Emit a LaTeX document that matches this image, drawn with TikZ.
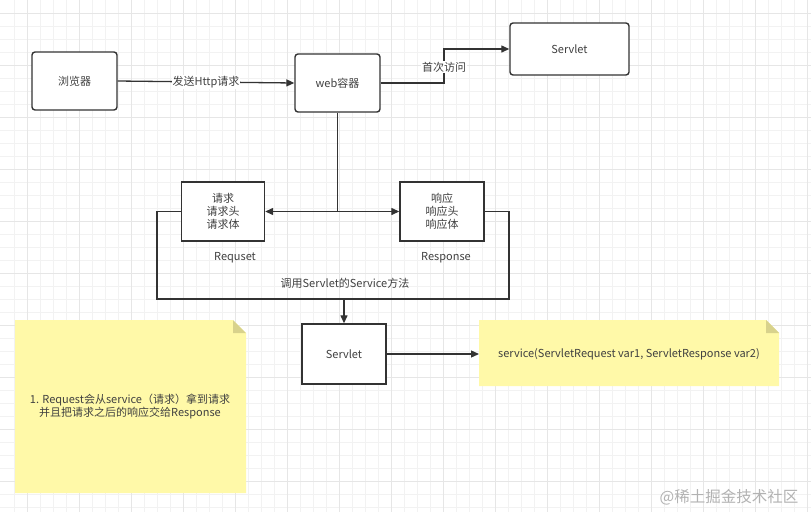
\documentclass[tikz,border=0pt]{standalone}
\usepackage{fontspec}
\setmainfont{Noto Sans CJK SC}
\usetikzlibrary{arrows.meta}
\definecolor{ink}{HTML}{333333}
\definecolor{txt}{HTML}{404040}
\definecolor{notey}{HTML}{FFF9A8}
\definecolor{notefold}{HTML}{D8D28C}
\definecolor{gridmin}{HTML}{F2F2F2}
\definecolor{gridmaj}{HTML}{E6E6E6}
\tikzset{
  x=1pt, y=-1pt,
  every node/.style={font=\fontsize{11}{13}\selectfont, text=txt},
  rbox/.style={draw=ink, line width=1.4pt, rounded corners=3pt, fill=white, minimum width=85pt, minimum height=58pt, inner sep=0pt},
  sbox/.style={draw=ink, line width=1.4pt, fill=white, minimum width=83pt, minimum height=59pt, inner sep=0pt, align=center},
  conn/.style={draw=ink, line width=1.3pt},
  arr/.style={conn, -{Triangle[length=8pt,width=7pt]}},
  lbl/.style={fill=white, inner sep=1pt},
  plain/.style={inner sep=0pt}
}
\begin{document}
\begin{tikzpicture}
\useasboundingbox (0,0) rectangle (811,512);
\fill[white] (0,0) rectangle (811,512);
% grid
\foreach \i in {1,...,62} {\draw[gridmin, line width=0.5pt] (\i*13+1,0) -- (\i*13+1,512);}
\foreach \i in {1,...,39} {\draw[gridmin, line width=0.5pt] (0,\i*13) -- (811,\i*13);}
\foreach \i in {0,...,15} {\draw[gridmaj, line width=0.7pt] (\i*52+27,0) -- (\i*52+27,512);}
\foreach \i in {0,...,9} {\draw[gridmaj, line width=0.7pt] (0,\i*52+13) -- (811,\i*52+13);}

% notes
\fill[notey] (15,320) -- (233,320) -- (246,333) -- (246,493) -- (15,493) -- cycle;
\fill[notefold] (233,320) -- (246,333) -- (233,333) -- cycle;
\fill[notey] (479,320) -- (766,320) -- (779,333) -- (779,386) -- (479,386) -- cycle;
\fill[notefold] (766,320) -- (779,333) -- (766,333) -- cycle;
\node[plain, align=center] (note1) at (130,407) {1. Request会从service（请求）拿到请求\\并且把请求之后的响应交给Response};
\node[plain] (note2) at (629,354) {service(ServletRequest var1, ServletResponse var2)};
\coordinate (n2left) at (479,354);

% boxes
\node[rbox] (browser) at (74.5,81) {浏览器};
\node[rbox] (web) at (337.5,83) {web容器};
\node[rbox, minimum width=119pt, minimum height=52pt] (servlet1) at (569.5,49) {Servlet};
\node[sbox] (req) at (223,211.5) {请求\\请求头\\请求体};
\node[sbox, minimum width=84pt] (resp) at (442,211.5) {响应\\响应头\\响应体};
\node[sbox, minimum width=84pt, minimum height=60pt] (servlet2) at (344,354) {Servlet};

\node[plain] (reqlbl) at (235,258) {Requset};
\node[plain] (resplbl) at (446,258) {Response};

% connectors
\draw[arr] (browser.east) -- (web.west) node[midway, lbl] {发送Http请求};
\coordinate (k1) at (444,83);
\draw[arr] (web.east) -- (k1) -- (444,49) -- (servlet1.west);
\node[lbl] at (444,67) {首次访问};
\coordinate (junc) at (337.5,211.5);
\draw[conn] (web.south) -- (junc);
\draw[arr] (junc) -- (req.east);
\draw[arr] (junc) -- (resp.west);
\coordinate (bot) at (344,299);
\draw[conn] (req.west) -- (157,211.5) -- (157,299) -- (509,299) -- (509,211.5) -- (resp.east);
\draw[arr] (bot) -- (servlet2.north);
\node[plain] at (345,283) {调用Servlet的Service方法};
\draw[arr] (servlet2.east) -- (n2left);

% watermark
\node[plain, text=gray!60, font=\fontsize{15.5}{17}\selectfont] at (729,497) {@稀土掘金技术社区};
\end{tikzpicture}
\end{document}
